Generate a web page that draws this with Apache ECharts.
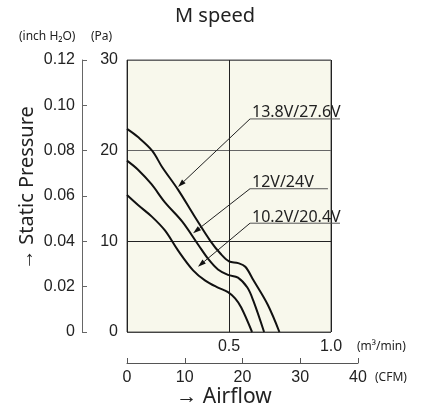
<!DOCTYPE html>
<html>
<head>
<meta charset="utf-8">
<title>M speed</title>
<script src="https://cdn.jsdelivr.net/npm/echarts@6/dist/echarts.min.js"></script>
<style>
  html, body { margin: 0; padding: 0; background: #fff; }
  #chart { width: 430px; height: 408px; }
</style>
</head>
<body>
<div id="chart"></div>
<script>
// airflow (m3/min) , static pressure (Pa)
var curveHigh = [[0, 22.4], [0.054, 21.5], [0.123, 20.0], [0.172, 18.2], [0.25, 15.7], [0.33, 12.8], [0.41, 10.0],
  [0.46, 8.6], [0.50, 7.8], [0.545, 7.6], [0.58, 7.2], [0.62, 5.7], [0.69, 3.0], [0.747, 0]];
var curveMid = [[0, 18.9], [0.054, 17.9], [0.12, 16.3], [0.186, 14.3], [0.27, 12.2], [0.35, 9.6], [0.40, 8.0],
  [0.446, 6.9], [0.495, 6.3], [0.544, 6.0], [0.59, 4.9], [0.62, 3.4], [0.672, 0]];
var curveLow = [[0, 15.1], [0.054, 14.0], [0.123, 12.7], [0.186, 11.2], [0.25, 9.0], [0.324, 6.8], [0.382, 5.7],
  [0.446, 4.9], [0.495, 4.4], [0.53, 3.7], [0.56, 2.7], [0.613, 0]];

var seriesNames = ['13.8V/27.6V', '12V/24V', '10.2V/20.4V'];
// leader lines: arrow tip on curve, elbow, end of underline (data units)
var arrowTips = [[0.25, 16.0], [0.324, 10.9], [0.348, 7.2]];
var leaderElbows = [[0.603, 23.5], [0.603, 15.8], [0.603, 12.0]];
var underlineEnds = [1.044, 0.985, 1.044];

var paTicks = [0, 30, 10];       // min, max, interval
var inchTicks = [0, 0.12, 0.02];
var cmmTicks = [0, 1.0, 0.5];
var cfmTicks = [0, 40, 10];

var tickFont = "'Liberation Sans', Arial, sans-serif";
var plain = "'Noto Sans', sans-serif";

var chart = echarts.init(document.getElementById('chart'));

var annoData = arrowTips.map(function (t, i) {
  return [t[0], t[1], leaderElbows[i][0], leaderElbows[i][1], underlineEnds[i]];
});

var option = {
  animation: false,
  grid: [
    { left: 127, top: 60, width: 204, height: 272, show: true, backgroundColor: '#f8f8ec', borderColor: '#555', borderWidth: 1 },
    { left: 127, top: 60, width: 231, height: 272, show: false }
  ],
  xAxis: [
    {
      gridIndex: 0, type: 'value', min: cmmTicks[0], max: cmmTicks[1], interval: cmmTicks[2],
      axisLine: { show: false }, axisTick: { show: false },
      splitLine: { show: true, lineStyle: { color: '#222', width: 1 } },
      axisLabel: {
        margin: 7, color: '#222', fontSize: 16, fontFamily: tickFont,
        formatter: function (v) { return v === 0 ? '' : v.toFixed(1); }
      }
    },
    {
      gridIndex: 1, type: 'value', position: 'bottom', offset: 31,
      min: cfmTicks[0], max: cfmTicks[1], interval: cfmTicks[2],
      axisLine: { show: true, onZero: false, lineStyle: { color: '#555', width: 1 } },
      axisTick: { show: true, inside: true, length: 5, lineStyle: { color: '#555' } },
      splitLine: { show: false },
      axisLabel: { margin: 7, color: '#222', fontSize: 16, fontFamily: tickFont }
    }
  ],
  yAxis: [
    {
      gridIndex: 0, type: 'value', min: paTicks[0], max: paTicks[1], interval: paTicks[2],
      axisLine: { show: false }, axisTick: { show: false },
      splitLine: { show: true, lineStyle: { color: ['#444', '#222', '#666', '#666'], width: 1 } },
      axisLabel: { margin: 9, color: '#222', fontSize: 16, fontFamily: tickFont }
    },
    {
      gridIndex: 0, type: 'value', position: 'left', offset: 45,
      min: inchTicks[0], max: inchTicks[1], interval: inchTicks[2],
      axisLine: { show: true, onZero: false, lineStyle: { color: '#666', width: 1 } },
      axisTick: { show: true, inside: true, length: 5, lineStyle: { color: '#666' } },
      splitLine: { show: false },
      axisLabel: {
        margin: 7, color: '#222', fontSize: 16, fontFamily: tickFont,
        formatter: function (v) { return v === 0 ? '0' : v.toFixed(2); }
      }
    },
    { gridIndex: 1, type: 'value', min: 0, max: 1, show: false }
  ],
  graphic: [
    { type: 'text', left: 'center', top: 6, style: { text: 'M speed', font: '20px ' + plain, fill: '#222' } },
    { type: 'text', x: 19, y: 37, style: { text: '(inch H₂O)', font: '12px ' + plain, fill: '#222', verticalAlign: 'middle' } },
    { type: 'text', x: 91, y: 37, style: { text: '(Pa)', font: '12px ' + plain, fill: '#222', verticalAlign: 'middle' } },
    { type: 'text', x: 27, y: 188, rotation: Math.PI / 2,
      style: { text: '→ Static Pressure', font: '20px ' + plain, fill: '#222', align: 'center', verticalAlign: 'middle' } },
    { type: 'text', x: 357, y: 347, style: { text: '(m³/min)', font: '12px ' + plain, fill: '#222', verticalAlign: 'middle' } },
    { type: 'text', x: 375, y: 378, style: { text: '(CFM)', font: '12px ' + plain, fill: '#222', verticalAlign: 'middle' } },
    { type: 'text', x: 224, y: 397,
      style: { text: '→ Airflow', font: '21px ' + plain, fill: '#222', align: 'center', verticalAlign: 'middle' } }
  ],
  series: [
    { name: seriesNames[0], type: 'line', data: curveHigh, symbol: 'none', smooth: 0.35, lineStyle: { color: '#111', width: 2 } },
    { name: seriesNames[1], type: 'line', data: curveMid, symbol: 'none', smooth: 0.35, lineStyle: { color: '#111', width: 2 } },
    { name: seriesNames[2], type: 'line', data: curveLow, symbol: 'none', smooth: 0.35, lineStyle: { color: '#111', width: 2 } },
    {
      type: 'custom', clip: false, z: 5,
      xAxisIndex: 0, yAxisIndex: 0,
      encode: { x: [0, 2, 4], y: [1, 3] },
      data: annoData,
      renderItem: function (params, api) {
        var tip = api.coord([api.value(0), api.value(1)]);
        var elbow = api.coord([api.value(2), api.value(3)]);
        var end = api.coord([api.value(4), api.value(3)]);
        var dx = elbow[0] - tip[0], dy = elbow[1] - tip[1];
        var len = Math.sqrt(dx * dx + dy * dy);
        var ux = dx / len, uy = dy / len;
        var hl = 8, hw = 2.6;
        var bx = tip[0] + ux * hl, by = tip[1] + uy * hl;
        return {
          type: 'group',
          children: [
            { type: 'line', shape: { x1: bx, y1: by, x2: elbow[0], y2: elbow[1] }, style: { stroke: '#222', lineWidth: 1 } },
            { type: 'line', shape: { x1: elbow[0], y1: elbow[1], x2: end[0], y2: end[1] }, style: { stroke: '#555', lineWidth: 1 } },
            { type: 'polygon', shape: { points: [tip, [bx - uy * hw, by + ux * hw], [bx + uy * hw, by - ux * hw]] }, style: { fill: '#111' } },
            { type: 'text', x: elbow[0] + 2, y: elbow[1] + 2,
              style: { text: seriesNames[params.dataIndex], font: '16px ' + plain, fill: '#222', align: 'left', verticalAlign: 'bottom' } }
          ]
        };
      }
    }
  ]
};

chart.setOption(option);
</script>
</body>
</html>
